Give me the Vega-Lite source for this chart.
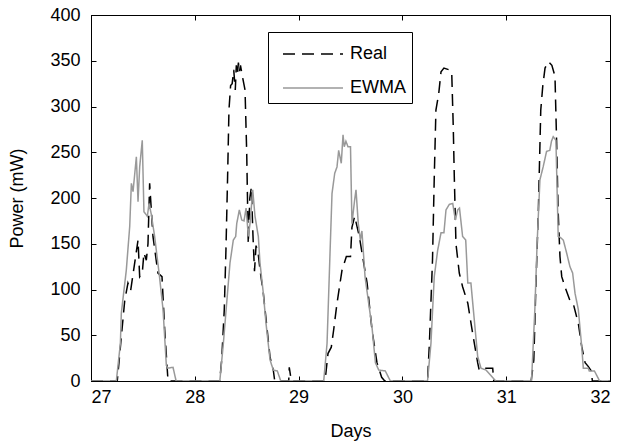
{
"$schema":"https://vega.github.io/schema/vega-lite/v6.json",
"width":519,"height":366,
"autosize":{"type":"none"},
"padding":{"left":91,"top":15,"right":11,"bottom":65},
"background":"white",
"config":{"view":{"stroke":"black","strokeWidth":1},
"axis":{"labelFont":"Liberation Sans","titleFont":"Liberation Sans","labelFontSize":18,"titleFontSize":18,"titleFontWeight":"normal","labelColor":"black","titleColor":"black","domainColor":"black","tickColor":"black","grid":false,"tickSize":-5,"labelPadding":12},
"legend":{"labelFont":"Liberation Sans"}},
"data":{"values":[
{"d":27.0,"s":"Real","p":0},{"d":27.253,"s":"Real","p":0},{"d":27.292,"s":"Real","p":48},{"d":27.325,"s":"Real","p":88},{"d":27.356,"s":"Real","p":107},{"d":27.382,"s":"Real","p":99},{"d":27.421,"s":"Real","p":129},{"d":27.453,"s":"Real","p":154},{"d":27.469,"s":"Real","p":114},{"d":27.494,"s":"Real","p":118},{"d":27.51,"s":"Real","p":140},{"d":27.533,"s":"Real","p":132},{"d":27.549,"s":"Real","p":150},{"d":27.565,"s":"Real","p":216},{"d":27.597,"s":"Real","p":158},{"d":27.645,"s":"Real","p":118},{"d":27.684,"s":"Real","p":114},{"d":27.71,"s":"Real","p":56},{"d":27.742,"s":"Real","p":0},
{"d":28.24,"s":"Real","p":0},{"d":28.259,"s":"Real","p":23},{"d":28.284,"s":"Real","p":78},{"d":28.3,"s":"Real","p":143},{"d":28.316,"s":"Real","p":223},{"d":28.329,"s":"Real","p":296},{"d":28.345,"s":"Real","p":323},{"d":28.36,"s":"Real","p":325},{"d":28.375,"s":"Real","p":340},{"d":28.39,"s":"Real","p":318},{"d":28.4,"s":"Real","p":345},{"d":28.41,"s":"Real","p":335},{"d":28.42,"s":"Real","p":348},{"d":28.43,"s":"Real","p":338},{"d":28.44,"s":"Real","p":345},{"d":28.455,"s":"Real","p":335},{"d":28.484,"s":"Real","p":318},{"d":28.5,"s":"Real","p":250},{"d":28.515,"s":"Real","p":150},{"d":28.53,"s":"Real","p":200},{"d":28.545,"s":"Real","p":212},{"d":28.56,"s":"Real","p":160},{"d":28.575,"s":"Real","p":120},{"d":28.59,"s":"Real","p":148},{"d":28.61,"s":"Real","p":140},{"d":28.63,"s":"Real","p":120},{"d":28.66,"s":"Real","p":96},{"d":28.725,"s":"Real","p":26},{"d":28.756,"s":"Real","p":12},{"d":28.77,"s":"Real","p":0},{"d":28.905,"s":"Real","p":0},{"d":28.91,"s":"Real","p":15},{"d":28.93,"s":"Real","p":0},
{"d":29.255,"s":"Real","p":0},{"d":29.283,"s":"Real","p":30},{"d":29.315,"s":"Real","p":37},{"d":29.338,"s":"Real","p":56},{"d":29.37,"s":"Real","p":85},{"d":29.418,"s":"Real","p":121},{"d":29.46,"s":"Real","p":136},{"d":29.5,"s":"Real","p":136},{"d":29.514,"s":"Real","p":168},{"d":29.54,"s":"Real","p":180},{"d":29.585,"s":"Real","p":158},{"d":29.627,"s":"Real","p":129},{"d":29.66,"s":"Real","p":107},{"d":29.707,"s":"Real","p":56},{"d":29.755,"s":"Real","p":20},{"d":29.8,"s":"Real","p":4},{"d":29.83,"s":"Real","p":0},
{"d":30.242,"s":"Real","p":0},{"d":30.26,"s":"Real","p":41},{"d":30.29,"s":"Real","p":132},{"d":30.307,"s":"Real","p":223},{"d":30.323,"s":"Real","p":296},{"d":30.35,"s":"Real","p":314},{"d":30.372,"s":"Real","p":338},{"d":30.4,"s":"Real","p":342},{"d":30.452,"s":"Real","p":340},{"d":30.475,"s":"Real","p":338},{"d":30.49,"s":"Real","p":278},{"d":30.5,"s":"Real","p":223},{"d":30.516,"s":"Real","p":150},{"d":30.548,"s":"Real","p":118},{"d":30.58,"s":"Real","p":103},{"d":30.63,"s":"Real","p":85},{"d":30.677,"s":"Real","p":52},{"d":30.725,"s":"Real","p":20},{"d":30.74,"s":"Real","p":12},{"d":30.77,"s":"Real","p":14},{"d":30.87,"s":"Real","p":14},{"d":30.88,"s":"Real","p":0},
{"d":31.24,"s":"Real","p":0},{"d":31.266,"s":"Real","p":23},{"d":31.284,"s":"Real","p":96},{"d":31.31,"s":"Real","p":187},{"d":31.333,"s":"Real","p":296},{"d":31.352,"s":"Real","p":322},{"d":31.374,"s":"Real","p":342},{"d":31.406,"s":"Real","p":349},{"d":31.44,"s":"Real","p":345},{"d":31.47,"s":"Real","p":333},{"d":31.486,"s":"Real","p":260},{"d":31.5,"s":"Real","p":187},{"d":31.518,"s":"Real","p":136},{"d":31.535,"s":"Real","p":114},{"d":31.566,"s":"Real","p":103},{"d":31.614,"s":"Real","p":88},{"d":31.645,"s":"Real","p":85},{"d":31.695,"s":"Real","p":63},{"d":31.727,"s":"Real","p":38},{"d":31.76,"s":"Real","p":20},{"d":31.79,"s":"Real","p":16},{"d":31.82,"s":"Real","p":11},{"d":31.83,"s":"Real","p":0},{"d":32.0,"s":"Real","p":0},
{"d":27.0,"s":"EWMA","p":0},{"d":27.244,"s":"EWMA","p":0},{"d":27.283,"s":"EWMA","p":41},{"d":27.292,"s":"EWMA","p":74},{"d":27.34,"s":"EWMA","p":121},{"d":27.373,"s":"EWMA","p":169},{"d":27.389,"s":"EWMA","p":216},{"d":27.405,"s":"EWMA","p":207},{"d":27.437,"s":"EWMA","p":245},{"d":27.453,"s":"EWMA","p":196},{"d":27.469,"s":"EWMA","p":234},{"d":27.494,"s":"EWMA","p":263},{"d":27.51,"s":"EWMA","p":185},{"d":27.543,"s":"EWMA","p":180},{"d":27.559,"s":"EWMA","p":194},{"d":27.581,"s":"EWMA","p":182},{"d":27.613,"s":"EWMA","p":158},{"d":27.66,"s":"EWMA","p":114},{"d":27.694,"s":"EWMA","p":78},{"d":27.726,"s":"EWMA","p":17},{"d":27.74,"s":"EWMA","p":14},{"d":27.79,"s":"EWMA","p":15},{"d":27.82,"s":"EWMA","p":0},
{"d":28.241,"s":"EWMA","p":0},{"d":28.275,"s":"EWMA","p":41},{"d":28.307,"s":"EWMA","p":85},{"d":28.339,"s":"EWMA","p":129},{"d":28.371,"s":"EWMA","p":154},{"d":28.394,"s":"EWMA","p":158},{"d":28.404,"s":"EWMA","p":172},{"d":28.429,"s":"EWMA","p":187},{"d":28.452,"s":"EWMA","p":176},{"d":28.474,"s":"EWMA","p":175},{"d":28.494,"s":"EWMA","p":189},{"d":28.516,"s":"EWMA","p":158},{"d":28.532,"s":"EWMA","p":172},{"d":28.558,"s":"EWMA","p":209},{"d":28.58,"s":"EWMA","p":180},{"d":28.612,"s":"EWMA","p":158},{"d":28.628,"s":"EWMA","p":129},{"d":28.66,"s":"EWMA","p":96},{"d":28.686,"s":"EWMA","p":63},{"d":28.725,"s":"EWMA","p":23},{"d":28.756,"s":"EWMA","p":12},{"d":28.795,"s":"EWMA","p":11},{"d":28.828,"s":"EWMA","p":0},
{"d":29.242,"s":"EWMA","p":0},{"d":29.274,"s":"EWMA","p":41},{"d":29.306,"s":"EWMA","p":151},{"d":29.322,"s":"EWMA","p":205},{"d":29.348,"s":"EWMA","p":227},{"d":29.37,"s":"EWMA","p":234},{"d":29.386,"s":"EWMA","p":252},{"d":29.411,"s":"EWMA","p":238},{"d":29.428,"s":"EWMA","p":269},{"d":29.44,"s":"EWMA","p":256},{"d":29.456,"s":"EWMA","p":262},{"d":29.476,"s":"EWMA","p":256},{"d":29.5,"s":"EWMA","p":256},{"d":29.514,"s":"EWMA","p":172},{"d":29.54,"s":"EWMA","p":198},{"d":29.553,"s":"EWMA","p":209},{"d":29.575,"s":"EWMA","p":172},{"d":29.595,"s":"EWMA","p":154},{"d":29.61,"s":"EWMA","p":164},{"d":29.627,"s":"EWMA","p":136},{"d":29.64,"s":"EWMA","p":114},{"d":29.675,"s":"EWMA","p":85},{"d":29.707,"s":"EWMA","p":59},{"d":29.74,"s":"EWMA","p":20},{"d":29.772,"s":"EWMA","p":12},{"d":29.835,"s":"EWMA","p":11},{"d":29.884,"s":"EWMA","p":0},
{"d":30.242,"s":"EWMA","p":0},{"d":30.275,"s":"EWMA","p":41},{"d":30.307,"s":"EWMA","p":114},{"d":30.34,"s":"EWMA","p":143},{"d":30.372,"s":"EWMA","p":162},{"d":30.4,"s":"EWMA","p":162},{"d":30.42,"s":"EWMA","p":187},{"d":30.452,"s":"EWMA","p":193},{"d":30.485,"s":"EWMA","p":194},{"d":30.51,"s":"EWMA","p":176},{"d":30.533,"s":"EWMA","p":187},{"d":30.55,"s":"EWMA","p":189},{"d":30.58,"s":"EWMA","p":158},{"d":30.61,"s":"EWMA","p":154},{"d":30.63,"s":"EWMA","p":107},{"d":30.66,"s":"EWMA","p":107},{"d":30.69,"s":"EWMA","p":70},{"d":30.725,"s":"EWMA","p":27},{"d":30.757,"s":"EWMA","p":14},{"d":30.805,"s":"EWMA","p":12},{"d":30.853,"s":"EWMA","p":6},{"d":30.9,"s":"EWMA","p":0},
{"d":31.244,"s":"EWMA","p":0},{"d":31.276,"s":"EWMA","p":78},{"d":31.298,"s":"EWMA","p":151},{"d":31.325,"s":"EWMA","p":220},{"d":31.356,"s":"EWMA","p":234},{"d":31.389,"s":"EWMA","p":251},{"d":31.42,"s":"EWMA","p":252},{"d":31.436,"s":"EWMA","p":262},{"d":31.453,"s":"EWMA","p":267},{"d":31.479,"s":"EWMA","p":263},{"d":31.501,"s":"EWMA","p":158},{"d":31.52,"s":"EWMA","p":157},{"d":31.55,"s":"EWMA","p":154},{"d":31.582,"s":"EWMA","p":140},{"d":31.614,"s":"EWMA","p":125},{"d":31.64,"s":"EWMA","p":118},{"d":31.663,"s":"EWMA","p":96},{"d":31.695,"s":"EWMA","p":78},{"d":31.727,"s":"EWMA","p":38},{"d":31.743,"s":"EWMA","p":14},{"d":31.79,"s":"EWMA","p":14},{"d":31.8,"s":"EWMA","p":11},{"d":31.85,"s":"EWMA","p":11},{"d":31.9,"s":"EWMA","p":0},{"d":32.0,"s":"EWMA","p":0}
]},
"encoding":{
"color":{"field":"s","type":"nominal","scale":{"domain":["Real","EWMA"],"range":["#000000","#999999"]},
"legend":{"title":null,"orient":"none","legendX":177,"legendY":17,"strokeColor":"black","fillColor":"white","padding":6,"symbolType":"M-2,0H2","symbolSize":900,"symbolOffset":23,"symbolStrokeWidth":1.5,"labelFontSize":18,"labelColor":"black","rowPadding":9,"labelOffset":21,"labelExpr":"datum.label + '  '"}},
"strokeDash":{"field":"s","type":"nominal","scale":{"domain":["Real","EWMA"],"range":[[12,7],[1,0]]},"legend":null}
},
"layer":[
{"transform":[{"filter":"datum.s==='Real'"}],"mark":{"type":"line","strokeWidth":1.5,"clip":true},
"encoding":{
"x":{"field":"d","type":"quantitative","scale":{"domain":[27,32],"nice":false,"zero":false},"axis":{"title":"Days","values":[27,28,29,30,31,32],"titlePadding":16}},
"y":{"field":"p","type":"quantitative","scale":{"domain":[0,400],"nice":false},"axis":{"title":"Power (mW)","values":[0,50,100,150,200,250,300,350,400],"titlePadding":23,"labelPadding":16}}}},
{"transform":[{"filter":"datum.s==='EWMA'"}],"mark":{"type":"line","strokeWidth":1.5,"clip":true},
"encoding":{
"x":{"field":"d","type":"quantitative","axis":{"orient":"top","title":null,"labels":false,"values":[27,28,29,30,31,32]}},
"y":{"field":"p","type":"quantitative","axis":{"orient":"right","title":null,"labels":false,"values":[0,50,100,150,200,250,300,350,400]}}}}
],
"resolve":{"axis":{"x":"independent","y":"independent"}}
}
